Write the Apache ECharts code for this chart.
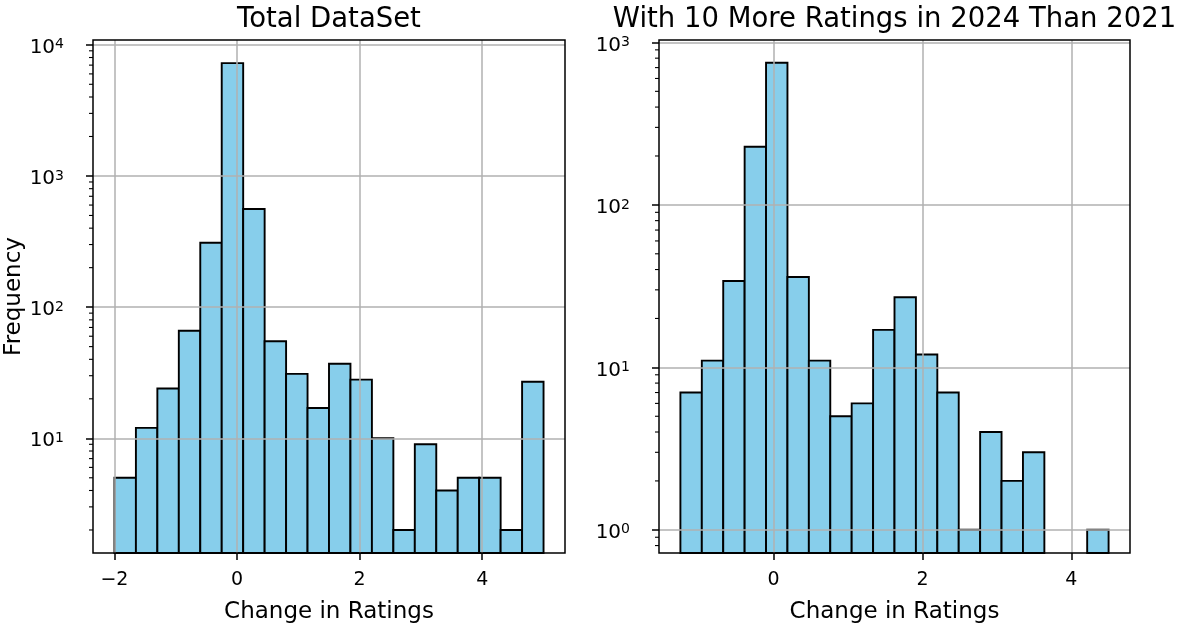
<!DOCTYPE html>
<html><head><meta charset="utf-8">
<script src="https://cdn.jsdelivr.net/npm/echarts@6/dist/echarts.min.js"></script>
<style>html,body{margin:0;padding:0;background:#fff}#c{width:1182px;height:629px}</style>
</head><body><div id="c"></div>
<script>
// ---- data ----
const leftEdges = [-2, -1.65, -1.3, -0.95, -0.6, -0.25, 0.1, 0.45, 0.8, 1.15, 1.5, 1.85, 2.2, 2.55, 2.9, 3.25, 3.6, 3.95, 4.3, 4.65, 5];
const leftCounts = [5, 12, 24, 66, 310, 7250, 560, 55, 31, 17, 37, 28, 10, 2, 9, 4, 5, 5, 2, 27];
const rightEdges = [-1.25, -0.9625, -0.675, -0.3875, -0.1, 0.1875, 0.475, 0.7625, 1.05, 1.3375, 1.625, 1.9125, 2.2, 2.4875, 2.775, 3.0625, 3.35, 3.6375, 3.925, 4.2125, 4.5];
const rightCounts = [7, 11, 34, 228, 750, 36, 11, 5, 6, 17, 27, 12, 7, 1, 4, 2, 3, 0, 0, 1];
const leftXTicks = [-2, 0, 2, 4];
const rightXTicks = [0, 2, 4];
const leftYTicks = [10, 100, 1000, 10000];
const rightYTicks = [1, 10, 100, 1000];
const minorMantissas = [2, 3, 4, 5, 6, 7, 8, 9];
const leftDecades = [0.1, 1, 10, 100, 1000];
const rightDecades = [0.1, 1, 10, 100];
const titles = ['Total DataSet', 'With 10 More Ratings in 2024 Than 2021'];
const xName = 'Change in Ratings';
const yName = 'Frequency';

// ---- layout / style ----
const FONT = 'DejaVu Sans';
const axes = [
  {left: 93, width: 472, xmin: -2.35, xmax: 5.35, ymin: 1.335, ymax: 10880},
  {left: 659, width: 471, xmin: -1.5375, xmax: 4.7875, ymin: 0.72, ymax: 1035}
];
const TOP = 40, HEIGHT = 515;

function binData(edges, counts) {
  const out = [];
  counts.forEach((c, i) => { if (c > 0) out.push([edges[i], edges[i + 1], c]); });
  return out;
}
function minorData(decades, ymin, ymax) {
  const out = [];
  decades.forEach(d => minorMantissas.forEach(m => {
    const v = +(m * d).toPrecision(6);
    if (v > ymin && v < ymax) out.push([v]);
  }));
  return out;
}
const minus = v => (v < 0 ? '\u2212' + Math.abs(v) : String(v));
function logLabel(v) {
  const l = Math.log10(v), e = Math.round(l);
  if (Math.abs(l - e) > 1e-6) return '';
  return '{base|10}{sup|' + e + '}';
}
function barRender(params, api) {
  const c = api.value(2);
  const p0 = api.coord([api.value(0), c]);
  const p1 = api.coord([api.value(1), c]);
  const cs = params.coordSys;
  const bottom = cs.y + cs.height;
  return {type: 'rect', shape: {x: p0[0], y: p0[1], width: p1[0] - p0[0], height: bottom - p0[1]},
    style: {fill: '#87CEEB', stroke: '#000', lineWidth: 1.9}};
}
function minorRender(params, api) {
  const cs = params.coordSys;
  const p = api.coord([0, api.value(0)]);
  return {type: 'line', shape: {x1: cs.x - 4, y1: p[1], x2: cs.x, y2: p[1]},
    style: {stroke: '#000', lineWidth: 1.1}};
}

const chart = echarts.init(document.getElementById('c'), null, {renderer: 'canvas'});
const gridLine = {show: true, lineStyle: {color: '#b0b0b0', width: 1.5}};
const tick = {show: true, inside: false, length: 7, lineStyle: {color: '#000', width: 1.5}};

const xTicks = [leftXTicks, rightXTicks];
const yTicks = [leftYTicks, rightYTicks];

const option = {
  animation: false,
  backgroundColor: '#fff',
  textStyle: {fontFamily: FONT},
  title: titles.map((t, i) => ({
    text: t, left: axes[i].left + axes[i].width / 2, top: 6, textAlign: 'center', padding: 0,
    textStyle: {fontFamily: FONT, fontSize: 27.5, fontWeight: 'normal', color: '#000'}
  })),
  grid: axes.map(a => ({left: a.left, top: TOP, width: a.width, height: HEIGHT, show: true,
    borderColor: '#000', borderWidth: 1.5, backgroundColor: 'transparent', z: 6, containLabel: false})),
  xAxis: axes.map((a, i) => ({
    type: 'value', gridIndex: i, min: a.xmin, max: a.xmax, z: 5,
    splitNumber: 3, minInterval: 2, maxInterval: 2,
    name: xName, nameLocation: 'middle', nameGap: 48,
    nameTextStyle: {fontFamily: FONT, fontSize: 23, color: '#000'},
    axisLine: {show: false, onZero: false}, axisTick: Object.assign({customValues: xTicks[i]}, tick),
    axisLabel: {customValues: xTicks[i], formatter: minus, fontFamily: FONT, fontSize: 19, color: '#000', margin: 18,
      showMinLabel: true, showMaxLabel: true},
    splitLine: gridLine
  })),
  yAxis: axes.map((a, i) => ({
    type: 'log', logBase: 10, gridIndex: i, min: a.ymin, max: a.ymax, z: 5,
    name: i === 0 ? yName : '', nameLocation: 'middle', nameGap: 66,
    nameTextStyle: {fontFamily: FONT, fontSize: 23, color: '#000'},
    axisLine: {show: false, onZero: false}, axisTick: Object.assign({customValues: yTicks[i]}, tick),
    axisLabel: {customValues: yTicks[i], formatter: logLabel, fontFamily: FONT, fontSize: 20, color: '#000', margin: 29,
      showMinLabel: true, showMaxLabel: true,
      rich: {
        base: {fontFamily: FONT, fontSize: 20, color: '#000', verticalAlign: 'bottom', padding: [6, 0, 0, 0]},
        sup: {fontFamily: FONT, fontSize: 14, color: '#000', verticalAlign: 'top', padding: [6, 0, 0, 0]}
      }},
    splitLine: gridLine
  })),
  series: [
    {type: 'custom', xAxisIndex: 0, yAxisIndex: 0, z: 1, renderItem: barRender,
      encode: {x: [0, 1], y: 2}, data: binData(leftEdges, leftCounts)},
    {type: 'custom', xAxisIndex: 1, yAxisIndex: 1, z: 1, renderItem: barRender,
      encode: {x: [0, 1], y: 2}, data: binData(rightEdges, rightCounts)},
    {type: 'custom', xAxisIndex: 0, yAxisIndex: 0, z: 7, renderItem: minorRender,
      encode: {y: 0}, data: minorData(leftDecades, axes[0].ymin, axes[0].ymax)},
    {type: 'custom', xAxisIndex: 1, yAxisIndex: 1, z: 7, renderItem: minorRender,
      encode: {y: 0}, data: minorData(rightDecades, axes[1].ymin, axes[1].ymax)}
  ]
};
chart.setOption(option);
</script></body></html>
